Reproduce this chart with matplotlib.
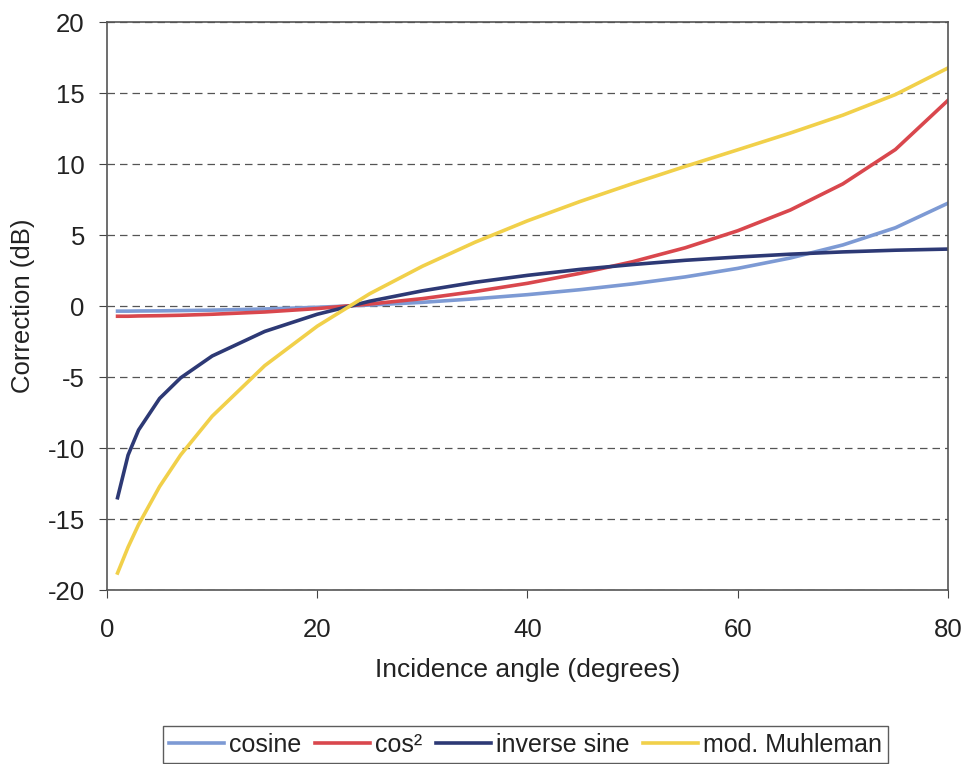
import matplotlib
matplotlib.use('Agg')
import matplotlib.pyplot as plt
import numpy as np

plt.rcParams.update({'font.size': 18, 'font.family': 'Liberation Sans',
                     'axes.unicode_minus': False})

# incidence angle (degrees)
angle = [1, 2, 3, 5, 7, 10, 15, 20, 25, 30, 35, 40, 45, 50, 55, 60, 65, 70, 75, 80]

cosine = [-0.36, -0.36, -0.35, -0.34, -0.32, -0.29, -0.21, -0.09, 0.07, 0.26,
          0.51, 0.80, 1.15, 1.56, 2.05, 2.65, 3.38, 4.30, 5.51, 7.24]
cos_sq = [-0.72, -0.72, -0.70, -0.68, -0.65, -0.58, -0.42, -0.18, 0.14, 0.52,
          1.02, 1.60, 2.30, 3.12, 4.10, 5.30, 6.76, 8.60, 11.02, 14.48]
inv_sine = [-13.5, -10.5, -8.73, -6.51, -5.06, -3.52, -1.79, -0.58, 0.34, 1.07,
            1.67, 2.16, 2.58, 2.92, 3.22, 3.45, 3.65, 3.81, 3.93, 4.01]
muhleman = [-18.8, -16.98, -15.39, -12.71, -10.49, -7.76, -4.20, -1.42, 0.87, 2.80,
            4.49, 6.00, 7.36, 8.62, 9.83, 11.0, 12.18, 13.44, 14.89, 16.76]

fig = plt.figure(figsize=(9.67, 7.64), dpi=100)
ax = fig.add_axes([0.1107, 0.2277, 0.8696, 0.7435])

ax.plot(angle, cosine, color='#7d9ad4', lw=2.6, label='cosine')
ax.plot(angle, cos_sq, color='#d9474d', lw=2.6, label='cos²')
ax.plot(angle, inv_sine, color='#2d3975', lw=2.6, label='inverse sine')
ax.plot(angle, muhleman, color='#f1d04a', lw=2.6, label='mod. Muhleman')

ax.set_xlim(0, 80)
ax.set_ylim(-20, 20)
ax.set_xticks(np.arange(0, 81, 20))
ax.set_yticks(np.arange(-20, 21, 5))
ax.yaxis.grid(True, color='#555555', ls=(0, (6, 4)), lw=0.9)
ax.set_axisbelow(True)
ax.tick_params(direction='out', length=6, color='#444444', labelsize=18.5,
               labelcolor='#222222')
ax.tick_params(axis='x', pad=14)
ax.tick_params(axis='y', pad=10)
for s in ax.spines.values():
    s.set_color('#555555')
    s.set_linewidth(1.2)

ax.set_xlabel('Incidence angle (degrees)', fontsize=19, labelpad=12, color='#222222')
ax.set_ylabel('Correction (dB)', fontsize=18.5, labelpad=9, color='#222222')

leg = fig.legend(loc='center', bbox_to_anchor=(525.5 / 967, 0.0255), ncol=4,
                 frameon=True, fancybox=False, edgecolor='#333333',
                 handlelength=2.2, handletextpad=0.2, columnspacing=0.55,
                 borderpad=0.25, fontsize=18)
leg.get_frame().set_linewidth(1.0)
for t in leg.get_texts():
    t.set_color('#222222')

plt.savefig('out.png', dpi=100)
